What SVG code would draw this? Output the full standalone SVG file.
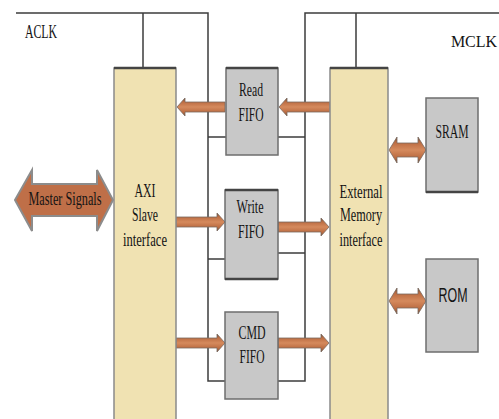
<svg xmlns="http://www.w3.org/2000/svg" width="499" height="419" viewBox="0 0 499 419">
<defs>
<linearGradient id="bus" x1="0" y1="0" x2="0" y2="1">
<stop offset="0" stop-color="#5e4a3c"/>
<stop offset="0.18" stop-color="#b9693f"/>
<stop offset="0.5" stop-color="#d58a5d"/>
<stop offset="0.82" stop-color="#b9693f"/>
<stop offset="1" stop-color="#5e4a3c"/>
</linearGradient>
<style>
.blk{fill:#f0e2b2;stroke:#8a8a8a;stroke-width:1.5}
.gry{fill:#c8c8c8;stroke:#6e6e6e;stroke-width:1.5}
.top{stroke:#444;stroke-width:2.5;fill:none}
.wire{fill:none;stroke:#3c3c3c;stroke-width:1.5}
.bus{fill:url(#bus);stroke:#7a6a60;stroke-width:0.8}
.big{fill:#bf6f48;stroke:#8c8c8c;stroke-width:2}
.t{font-family:"Liberation Serif",serif;font-size:18px;fill:#141414;text-anchor:middle}
.s{font-family:"Liberation Sans",sans-serif;font-size:21px;fill:#141414;text-anchor:middle}
</style>
</defs>
<rect width="499" height="419" fill="#ffffff"/>

<g id="connectors">
<path class="wire" d="M16,13 H208 V381 H225 M143,13 V68 M208,137 H226 M208,259 H225"/>
<path class="wire" d="M499,13 H305 V381 H278 M356,13 V68 M305,137 H278 M305,253 H278"/>
<path class="bus" d="M330,102 H287 V98 L279,107 L287,116 V112 H330 Z"/>
<path class="bus" d="M225,102 H185 V98 L177,107 L185,116 V112 H225 Z"/>
<path class="bus" d="M176,217 H217 V213 L225,222 L217,231 V227 H176 Z"/>
<path class="bus" d="M278,222 H321 V218 L329,227 L321,236 V232 H278 Z"/>
<path class="bus" d="M176,338 H217 V334 L225,343 L217,352 V348 H176 Z"/>
<path class="bus" d="M278,338 H321 V334 L329,343 L321,352 V348 H278 Z"/>
<path class="bus" d="M389,150 L397,137 V143 H418 V137 L426,150 L418,163 V157 H397 V163 Z"/>
<path class="bus" d="M389,301 L397,288 V294 H418 V288 L426,301 L418,314 V308 H397 V314 Z"/>
</g>

<g id="aclk"><text class="t" x="41" y="38" textLength="32" lengthAdjust="spacingAndGlyphs">ACLK</text></g>
<g id="mclk"><text class="t" x="474" y="47" style="font-size:16px">MCLK</text></g>

<g id="master">
<path class="big" d="M15,200 L32,170 V184 H97 V170 L113,200 L97,231 V216 H32 V231 Z"/>
<text class="t" x="65" y="205" textLength="73" lengthAdjust="spacingAndGlyphs">Master Signals</text>
</g>

<g id="axi">
<rect class="blk" x="114" y="68" width="62" height="360"/>
<line class="top" x1="114" y1="68" x2="176" y2="68"/>
<text class="t" x="145" y="197" textLength="21" lengthAdjust="spacingAndGlyphs">AXI</text>
<text class="t" x="145" y="221" textLength="26" lengthAdjust="spacingAndGlyphs">Slave</text>
<text class="t" x="145" y="246" textLength="44" lengthAdjust="spacingAndGlyphs">interface</text>
</g>

<g id="ext">
<rect class="blk" x="330" y="68" width="58" height="360"/>
<line class="top" x1="330" y1="68" x2="388" y2="68"/>
<text class="t" x="361" y="198" textLength="43" lengthAdjust="spacingAndGlyphs">External</text>
<text class="t" x="361" y="221" textLength="42" lengthAdjust="spacingAndGlyphs">Memory</text>
<text class="t" x="361" y="246" textLength="43" lengthAdjust="spacingAndGlyphs">interface</text>
</g>

<g id="readfifo">
<rect class="gry" x="226" y="68" width="52" height="87"/>
<line class="top" x1="226" y1="68" x2="278" y2="68"/>
<text class="t" x="251" y="96" textLength="24" lengthAdjust="spacingAndGlyphs">Read</text>
<text class="t" x="251" y="121" textLength="25" lengthAdjust="spacingAndGlyphs">FIFO</text>
</g>

<g id="writefifo">
<rect class="gry" x="225" y="190" width="53" height="89"/>
<line class="top" x1="225" y1="190" x2="278" y2="190"/>
<line class="top" x1="225" y1="279" x2="278" y2="279"/>
<text class="t" x="250" y="213" textLength="27" lengthAdjust="spacingAndGlyphs">Write</text>
<text class="t" x="251" y="238" textLength="26" lengthAdjust="spacingAndGlyphs">FIFO</text>
</g>

<g id="cmdfifo">
<rect class="gry" x="225" y="312" width="53" height="87"/>
<text class="t" x="252" y="339" textLength="27" lengthAdjust="spacingAndGlyphs">CMD</text>
<text class="t" x="252" y="363" textLength="25" lengthAdjust="spacingAndGlyphs">FIFO</text>
</g>

<g id="sram">
<rect class="gry" x="426" y="98" width="52" height="94"/>
<line class="top" x1="426" y1="192" x2="478" y2="192"/>
<text class="t" x="452" y="138" textLength="33" lengthAdjust="spacingAndGlyphs">SRAM</text>
</g>

<g id="rom">
<rect class="gry" x="426" y="259" width="52" height="93"/>
<text class="s" x="453" y="302" textLength="29" lengthAdjust="spacingAndGlyphs">ROM</text>
</g>
</svg>
